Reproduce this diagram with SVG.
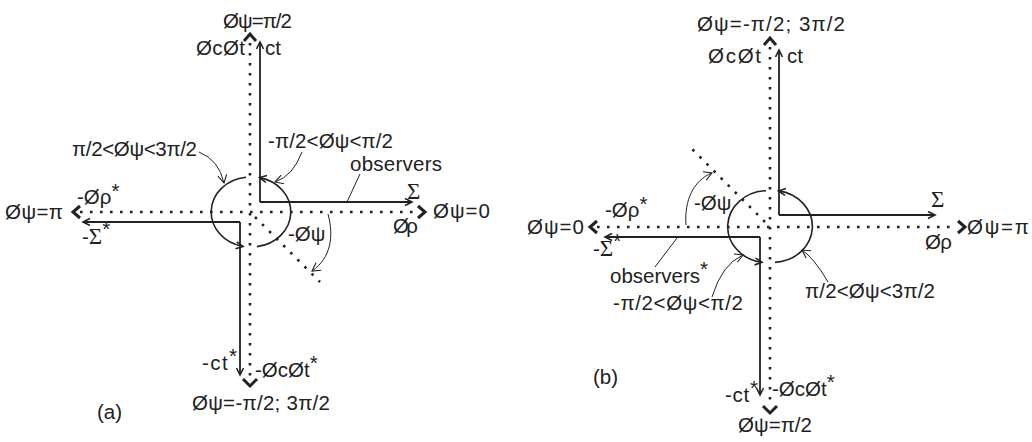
<svg xmlns="http://www.w3.org/2000/svg" width="1032" height="442" viewBox="0 0 1032 442">
<defs>
<style>
.t{font-family:"Liberation Sans",Arial,sans-serif;font-size:20.5px;fill:#222}
.s{font-family:"Liberation Serif","Times New Roman",serif;font-size:23px;fill:#222}
.dot{stroke:#222;stroke-width:2.6;stroke-dasharray:2.6 7.4;fill:none}
.ax{stroke:#222;stroke-width:1.8;fill:none;marker-end:url(#ah)}
.chev{stroke:#222;stroke-width:3;fill:none;stroke-linejoin:miter}
.arc{stroke:#222;stroke-width:1.6;fill:none;marker-end:url(#ah2)}
.lead{stroke:#222;stroke-width:1;fill:none}
.leadA{stroke:#222;stroke-width:1;fill:none;marker-end:url(#ah3)}
</style>
<marker id="ah" markerWidth="10" markerHeight="10" refX="8" refY="4" orient="auto" markerUnits="userSpaceOnUse"><path d="M1,0.5 L8,4 L1,7.5" fill="none" stroke="#222" stroke-width="1.6"/></marker>
<marker id="ah2" markerWidth="10" markerHeight="10" refX="8" refY="4" orient="auto" markerUnits="userSpaceOnUse"><path d="M1,0.5 L8,4 L1,7.5" fill="none" stroke="#222" stroke-width="1.6"/></marker>
<marker id="ah3" markerWidth="12" markerHeight="12" refX="9" refY="5" orient="auto" markerUnits="userSpaceOnUse"><path d="M1,0.5 L9,5 L1,9.5" fill="none" stroke="#222" stroke-width="1.1"/></marker>
</defs>
<rect width="1032" height="442" fill="#fff"/>

<g id="connectors">
<!-- panel a dotted axes -->
<path class="dot" d="M250,43 V378"/>
<path class="dot" d="M80,212 H417"/>
<polyline class="chev" points="244,41 250,34 256,41"/>
<polyline class="chev" points="243,379 250,386 257,379"/>
<polyline class="chev" points="80,206 73,212 80,218"/>
<polyline class="chev" points="418,206 425,212 418,218"/>
<path class="dot" d="M255,217 L320,282"/>
<!-- panel a solid axes -->
<path class="ax" d="M260,202 V42"/>
<path class="ax" d="M260,202 H412"/>
<path class="ax" d="M240,222 V375"/>
<path class="ax" d="M240,222 H83"/>
<!-- panel a arcs -->
<path class="arc" d="M246,177.2 A39,35 0 0 0 243,246.4"/>
<path class="arc" d="M257,246.6 A39,35 0 0 0 259.5,177.6"/>
<!-- panel a leaders -->
<path class="leadA" d="M199,152 Q219,160 224,183"/>
<path class="leadA" d="M302,152 Q293,176 275,182"/>
<path class="lead" d="M360,174 L347,202"/>
<path class="leadA" d="M328,214 C334,236 331,258 312,271"/>

<!-- panel b dotted axes -->
<path class="dot" d="M770,47 V405"/>
<path class="dot" d="M597,227 H957"/>
<polyline class="chev" points="764,45 770,38 776,45"/>
<polyline class="chev" points="763,406 770,413 777,406"/>
<polyline class="chev" points="597,221 590,227 597,233"/>
<polyline class="chev" points="958,221 965,227 958,233"/>
<path class="dot" d="M765,222 L692,149"/>
<!-- panel b solid axes -->
<path class="ax" d="M779,215 V50"/>
<path class="ax" d="M779,215 H935"/>
<path class="ax" d="M760,237 V395"/>
<path class="ax" d="M760,237 H605"/>
<!-- panel b arcs -->
<path class="arc" d="M766,190.7 A40,36 0 0 0 762,262.3"/>
<path class="arc" d="M775,262.4 A40,36 0 0 0 778.5,190.9"/>
<!-- panel b leaders -->
<path class="lead" d="M655,267 L677,238"/>
<path class="leadA" d="M712,297 Q722,264 743,255"/>
<path class="leadA" d="M828,282 Q814,258 802,250"/>
<path class="leadA" d="M686,225 C684,200 694,180 712,173"/>
</g>

<g id="labels-a">
<text class="t" x="223" y="28" textLength="69">Øψ=π/2</text>
<text class="t" x="196" y="55" textLength="49">ØcØt</text>
<text class="t" x="265" y="55">ct</text>
<text class="t" x="72" y="156" textLength="125">π/2&lt;Øψ&lt;3π/2</text>
<text class="t" x="268" y="148" textLength="125">-π/2&lt;Øψ&lt;π/2</text>
<text class="t" x="350" y="171" textLength="92">observers</text>
<text class="s" x="407" y="199">Σ</text>
<text class="t" x="433" y="218" textLength="57">Øψ=0</text>
<text class="t" x="393" y="233" textLength="25">Øρ</text>
<text class="t" x="5" y="219" textLength="58">Øψ=π</text>
<text class="t" x="77" y="204">-Øρ<tspan dy="-6">*</tspan></text>
<text class="t" x="82" y="244">-<tspan class="s">Σ</tspan><tspan dy="-8">*</tspan></text>
<text class="t" x="288" y="241">-Øψ</text>
<text class="t" x="202" y="370" textLength="35">-ct<tspan dy="-7">*</tspan></text>
<text class="t" x="255" y="377">-ØcØt<tspan dy="-7">*</tspan></text>
<text class="t" x="192" y="410" textLength="138">Øψ=-π/2; 3π/2</text>
<text class="t" x="97" y="419">(a)</text>
</g>

<g id="labels-b">
<text class="t" x="697" y="31" textLength="148">Øψ=-π/2; 3π/2</text>
<text class="t" x="708" y="63" textLength="53">ØcØt</text>
<text class="t" x="787" y="63">ct</text>
<text class="s" x="931" y="207">Σ</text>
<text class="t" x="967" y="234" textLength="62">Øψ=π</text>
<text class="t" x="925" y="249" textLength="27">Øρ</text>
<text class="t" x="805" y="298" textLength="130">π/2&lt;Øψ&lt;3π/2</text>
<text class="t" x="772" y="396">-ØcØt<tspan dy="-7">*</tspan></text>
<text class="t" x="725" y="402" textLength="33">-ct<tspan dy="-7">*</tspan></text>
<text class="t" x="738" y="432" textLength="74">Øψ=π/2</text>
<text class="t" x="593" y="384">(b)</text>
<text class="t" x="610" y="283">observers<tspan dy="-7">*</tspan></text>
<text class="t" x="613" y="310" textLength="130">-π/2&lt;Øψ&lt;π/2</text>
<text class="t" x="527" y="234" textLength="57">Øψ=0</text>
<text class="t" x="605" y="217">-Øρ<tspan dy="-6">*</tspan></text>
<text class="t" x="593" y="256">-<tspan class="s">Σ</tspan><tspan dy="-8">*</tspan></text>
<text class="t" x="694" y="210">-Øψ</text>
</g>
</svg>
